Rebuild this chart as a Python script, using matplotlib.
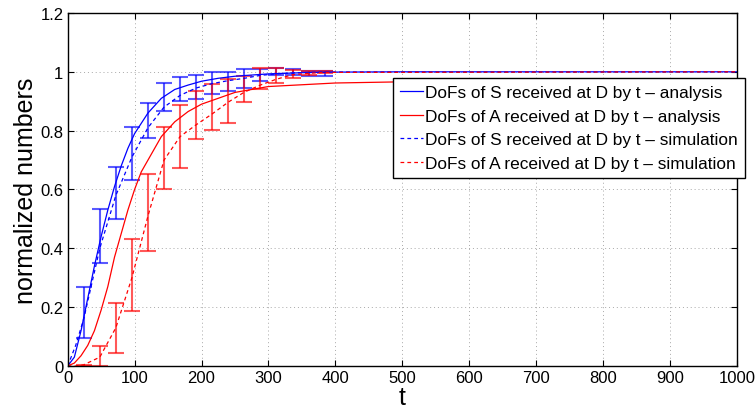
import matplotlib
matplotlib.use("Agg")
import matplotlib.pyplot as plt
from matplotlib.ticker import FixedLocator, FuncFormatter

plt.rcParams['font.family'] = ['Liberation Sans', 'DejaVu Sans']

# ---- analysis curves ----
ana_S_t = [0, 10, 20, 30, 40, 50, 60, 70, 80, 90, 100, 120, 140, 160, 180, 200,
           225, 250, 300, 350, 400, 500, 1000]
ana_S_y = [0, 0.03, 0.12, 0.23, 0.34, 0.44, 0.53, 0.61, 0.68, 0.74, 0.79, 0.86,
           0.91, 0.94, 0.955, 0.968, 0.978, 0.985, 0.993, 0.997, 0.999, 1.0, 1.0]

ana_A_t = [0, 10, 20, 30, 40, 50, 60, 70, 80, 90, 100, 110, 120, 140, 160, 180,
           200, 250, 300, 400, 500, 700, 1000]
ana_A_y = [0, 0.01, 0.035, 0.07, 0.12, 0.19, 0.27, 0.37, 0.45, 0.53, 0.60, 0.66,
           0.70, 0.78, 0.83, 0.865, 0.89, 0.93, 0.95, 0.962, 0.966, 0.968, 0.968]

# ---- simulation curves ----
sim_t = [0, 12, 24, 48, 72, 96, 120, 144, 168, 192, 216, 240, 264, 288, 312,
         336, 360, 384, 1000]
sim_S_y = [0, 0.07, 0.16, 0.40, 0.58, 0.71, 0.81, 0.88, 0.92, 0.945, 0.96, 0.97,
           0.978, 0.988, 0.993, 0.996, 0.998, 0.999, 1.0]
sim_A_y = [0, 0.0, 0.004, 0.03, 0.13, 0.30, 0.51, 0.70, 0.78, 0.82, 0.857, 0.897,
           0.931, 0.955, 0.975, 0.99, 0.995, 0.998, 1.0]

# ---- error bars (lower / upper extents) ----
bar_t = [24, 48, 72, 96, 120, 144, 168, 192, 216, 240, 264, 288, 312, 336, 360, 384]
bar_S_lo = [0.095, 0.350, 0.500, 0.633, 0.776, 0.868, 0.902, 0.908, 0.925, 0.935,
            0.944, 0.970, 0.988, 0.988, 0.986, 0.986]
bar_S_hi = [0.269, 0.534, 0.678, 0.812, 0.893, 0.962, 0.981, 0.988, 0.998, 0.998,
            1.008, 1.010, 1.012, 1.008, 1.002, 1.002]
bar_A_lo = [0.0, 0.0, 0.044, 0.186, 0.392, 0.602, 0.673, 0.772, 0.803, 0.827,
            0.897, 0.940, 0.962, 0.980, 0.990, 0.995]
bar_A_hi = [0.005, 0.069, 0.213, 0.430, 0.651, 0.814, 0.888, 0.935, 0.959, 0.974,
            0.985, 1.012, 1.014, 1.007, 1.003, 1.002]

labels = ["DoFs of S received at D by t \u2013 analysis",
          "DoFs of A received at D by t \u2013 analysis",
          "DoFs of S received at D by t \u2013 simulation",
          "DoFs of A received at D by t \u2013 simulation"]

xticks = [0, 100, 200, 300, 400, 500, 600, 700, 800, 900, 1000]
yticks = [0, 0.2, 0.4, 0.6, 0.8, 1.0, 1.2]

fig = plt.figure(figsize=(7.56, 4.10), dpi=100)
ax = fig.add_axes([0.0895, 0.1049, 0.8853, 0.861])

blue = '#0000ff'
red = '#ff0000'

def centers(lo, hi):
    return [(a + b) / 2 for a, b in zip(lo, hi)]

def halfs(lo, hi):
    return [(b - a) / 2 for a, b in zip(lo, hi)]

ax.errorbar(bar_t, centers(bar_S_lo, bar_S_hi), yerr=halfs(bar_S_lo, bar_S_hi),
            fmt='none', ecolor=blue, alpha=0.65, elinewidth=1.5, capsize=6,
            capthick=1.5, zorder=2)
ax.errorbar(bar_t, centers(bar_A_lo, bar_A_hi), yerr=halfs(bar_A_lo, bar_A_hi),
            fmt='none', ecolor=red, alpha=0.65, elinewidth=1.5, capsize=6,
            capthick=1.5, zorder=2)

l1, = ax.plot(ana_S_t, ana_S_y, color=blue, lw=0.9, zorder=3)
l2, = ax.plot(ana_A_t, ana_A_y, color=red, lw=0.9, zorder=3)
l3, = ax.plot(sim_t, sim_S_y, color=blue, lw=0.9, ls=(0, (3, 2.5)), zorder=3)
l4, = ax.plot(sim_t, sim_A_y, color=red, lw=0.9, ls=(0, (3, 2.5)), zorder=3)

ax.set_xlim(0, 1000)
ax.set_ylim(0, 1.2)
ax.xaxis.set_major_locator(FixedLocator(xticks))
ax.yaxis.set_major_locator(FixedLocator(yticks))
ax.yaxis.set_major_formatter(FuncFormatter(lambda v, p: ('%g' % round(v, 1))))
ax.xaxis.set_major_formatter(FuncFormatter(lambda v, p: ('%d' % v)))
ax.tick_params(direction='in', top=True, right=True, labelsize=12, length=4,
               width=0.8, pad=3)
ax.grid(True, color='#a8a8a8', ls=(0, (1, 3)), lw=0.7)
for s in ax.spines.values():
    s.set_linewidth(1.0)
    s.set_zorder(5)

ax.set_xlabel('t', fontsize=18, labelpad=0)
ax.set_ylabel('normalized numbers', fontsize=18, labelpad=2)

leg = ax.legend([l1, l2, l3, l4], labels, loc='upper left',
                bbox_to_anchor=(0.4856, 0.816), fontsize=12.4, frameon=True,
                fancybox=False, edgecolor='black', framealpha=1,
                borderpad=0.4, labelspacing=0.5, handlelength=1.35,
                handletextpad=0.15, borderaxespad=0)
leg.get_frame().set_linewidth(1.0)
leg.set_zorder(10)

fig.savefig('out.png', dpi=100)
